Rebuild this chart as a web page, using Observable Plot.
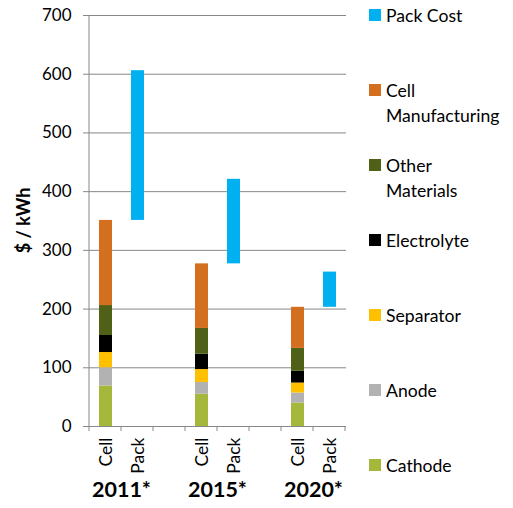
<!DOCTYPE html>
<html><head><meta charset="utf-8">
<script src="https://cdn.jsdelivr.net/npm/d3@7"></script>
<script src="https://cdn.jsdelivr.net/npm/@observablehq/plot@0.6"></script>
<style>
body{margin:0;background:#fff;font-family:Lato, sans-serif;}
#wrap{position:relative;width:513px;height:508px;}
#legend{position:absolute;left:369px;top:0;width:144px;height:508px;}
.item{position:absolute;left:0;width:144px;}
.sw{position:absolute;left:0;top:6.5px;width:12px;height:12px;}
.lab{position:absolute;left:17px;top:0;font-size:17.6px;line-height:25px;color:#000;white-space:nowrap;}
</style></head><body>
<div id="wrap"><div id="chart"></div><div id="legend"></div></div>
<script>
const years = ["2011*", "2015*", "2020*"];
const components = ["Cathode", "Anode", "Separator", "Electrolyte", "Other Materials", "Cell Manufacturing"];
const cathode = [69, 55, 40];
const anode = [31, 20, 17];
const separator = [26, 22, 17];
const electrolyte = [29, 26, 20];
const otherMaterials = [51, 44, 39];
const cellManufacturing = [145, 110, 70];
const packTotal = [606, 421, 263];
const barLabels = ["Cell", "Pack"];
const yTicks = [0, 100, 200, 300, 400, 500, 600, 700];
const legendLines = [["Pack Cost"], ["Cell", "Manufacturing"], ["Other", "Materials"], ["Electrolyte"], ["Separator"], ["Anode"], ["Cathode"]];
const legendKeys = ["Pack Cost", "Cell Manufacturing", "Other Materials", "Electrolyte", "Separator", "Anode", "Cathode"];
const legendColors = ["#00B0F0", "#D46F1F", "#4F6116", "#000000", "#FFC000", "#B2B2B2", "#A5B83B"];

const series = [cathode, anode, separator, electrolyte, otherMaterials, cellManufacturing];

// category domain: Cell, Pack, (gap) per year
const domain = [];
years.forEach((y, i) => {
  domain.push("Cell|" + i, "Pack|" + i);
  if (i < years.length - 1) domain.push("gap|" + i);
});

const cellRows = [];
const packRows = [];
years.forEach((y, i) => {
  let total = 0;
  components.forEach((c, j) => {
    cellRows.push({cat: "Cell|" + i, comp: c, value: series[j][i]});
    total += series[j][i];
  });
  packRows.push({cat: "Pack|" + i, comp: "Pack Cost", y1: total, y2: packTotal[i]});
});

const gridColor = "#878787";

function decorations(index, scales, values, dims) {
  const x = scales.x, y = scales.y;
  const step = x(domain[1]) - x(domain[0]);
  const bw = x.bandwidth ? x.bandwidth() : step * 0.4;
  const left = dims.marginLeft, right = dims.width - dims.marginRight;
  const y0 = y(0);
  const g = d3.create("svg:g");
  // y axis line
  g.append("line").attr("x1", left).attr("x2", left).attr("y1", y(700)).attr("y2", y0)
    .attr("stroke", gridColor);
  // x axis tick marks at band boundaries
  const n = Math.round((right - left) / step);
  for (let k = 0; k <= n; k++) {
    const xx = left + k * step;
    g.append("line").attr("x1", xx).attr("x2", xx).attr("y1", y0).attr("y2", y0 + 5)
      .attr("stroke", gridColor);
  }
  // year labels under each Cell/Pack pair
  years.forEach((yr, i) => {
    const cx = (x("Cell|" + i) + x("Pack|" + i) + bw) / 2;
    g.append("text").attr("x", cx).attr("y", dims.height - 11)
      .attr("text-anchor", "middle").attr("font-weight", "bold").attr("font-size", 21.5)
      .attr("fill", "#000").text(yr);
  });
  // y label
  g.append("text").attr("transform", `translate(${left - 66},${(y(700) + y0) / 2}) rotate(-90)`)
    .attr("text-anchor", "middle").attr("dominant-baseline", "central")
    .attr("font-weight", "bold").attr("font-size", 18).attr("fill", "#000").text("$ / kWh");
  return g.node();
}

const chart = Plot.plot({
  width: 513, height: 508,
  marginLeft: 89, marginRight: 167, marginTop: 15, marginBottom: 82,
  style: {fontFamily: "Lato, sans-serif", fontSize: "17px", color: "#000", background: "#fff", overflow: "visible"},
  x: {type: "band", domain, paddingInner: 0.6, paddingOuter: 0.3, axis: null},
  y: {domain: [0, 700], axis: null},
  color: {type: "ordinal", domain: legendKeys, range: legendColors},
  marks: [
    Plot.gridY(yTicks, {stroke: gridColor, strokeOpacity: 1}),
    Plot.barY(cellRows, {x: "cat", y: "value", fill: "comp"}),
    Plot.barY(packRows, {x: "cat", y1: "y1", y2: "y2", fill: "comp"}),
    Plot.axisY({ticks: yTicks, tickSize: 6, tickPadding: 12, stroke: gridColor, fill: "#000", fontSize: 17}),
    Plot.axisX({
      ticks: domain.filter(d => !d.startsWith("gap")),
      tickFormat: d => barLabels[d.startsWith("Cell") ? 0 : 1],
      tickRotate: -90, tickSize: 0, tickPadding: 11, fill: "#000", fontSize: 17.5, label: null
    }),
    decorations
  ]
});
document.getElementById("chart").appendChild(chart);

const legend = document.getElementById("legend");
legendLines.forEach((lines, k) => {
  const item = document.createElement("div");
  item.className = "item";
  item.style.top = (2.5 + 75 * k) + "px";
  const sw = document.createElement("div");
  sw.className = "sw";
  sw.style.background = legendColors[k];
  const lab = document.createElement("div");
  lab.className = "lab";
  lab.innerHTML = lines.join("<br>");
  item.appendChild(sw); item.appendChild(lab);
  legend.appendChild(item);
});
</script>
</body></html>
